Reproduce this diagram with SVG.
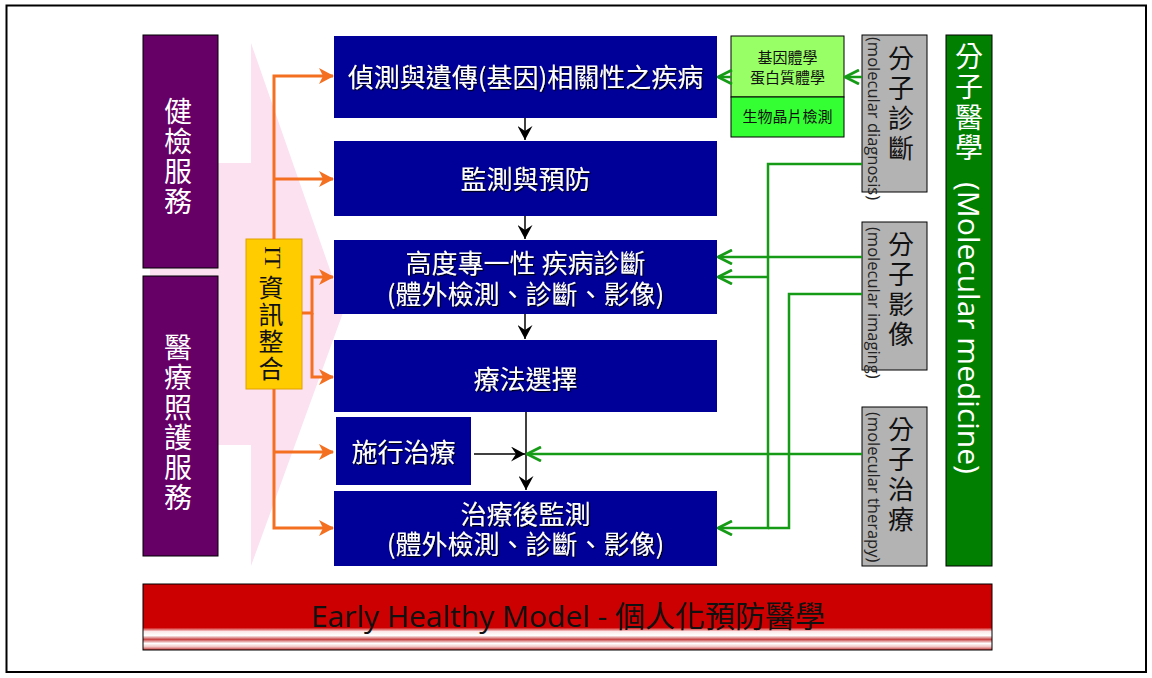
<svg xmlns="http://www.w3.org/2000/svg" width="1152" height="678" viewBox="0 0 1152 678">
<defs>
<style>
.cjk{font-family:"Noto Sans CJK TC","Noto Sans CJK SC",sans-serif}
.lat{font-family:"Open Sans","Noto Sans",sans-serif}
.blue{fill:#000099}
.btxt{fill:#fff;font-size:26px;text-anchor:middle;filter:url(#sh)}
.vwhite{fill:#fff;font-size:28px;text-anchor:middle}
.gray{fill:#b3b3b3;stroke:#000;stroke-width:1}
.gtxt{fill:#111;font-size:26px;text-anchor:middle}
.gsub{fill:#222;font-size:16.5px;dominant-baseline:central}
.orange{fill:none;stroke:#f47020;stroke-width:3}
.green{fill:none;stroke:#169b16;stroke-width:2.5}
.black{fill:none;stroke:#000;stroke-width:1.5}
</style>
<filter id="sh" x="-10%" y="-20%" width="120%" height="140%">
<feDropShadow dx="1.2" dy="1.2" stdDeviation="0.6" flood-color="#000" flood-opacity="0.9"/>
</filter>
<marker id="ao" markerUnits="userSpaceOnUse" viewBox="0 0 15 16" refX="14" refY="8" markerWidth="15" markerHeight="16" orient="auto">
<path d="M0,0 L15,8 L0,16 L4,8 z" fill="#f47020"/>
</marker>
<marker id="ag" markerUnits="userSpaceOnUse" viewBox="0 0 16 16" refX="15" refY="8" markerWidth="16" markerHeight="16" orient="auto">
<path d="M1,1 L15,8 L1,15" fill="none" stroke="#169b16" stroke-width="2.8"/>
</marker>
<marker id="ab" markerUnits="userSpaceOnUse" viewBox="0 0 14 15" refX="14" refY="7.5" markerWidth="14" markerHeight="15" orient="auto">
<path d="M0,0 L14,7.5 L0,15 L5,7.5 z" fill="#000"/>
</marker>
<linearGradient id="band" x1="0" y1="0" x2="0" y2="1">
<stop offset="0" stop-color="#cc0000"/>
<stop offset="0.66" stop-color="#cc0000"/>
<stop offset="0.72" stop-color="#fbe8e8"/>
<stop offset="0.78" stop-color="#fff"/>
<stop offset="0.84" stop-color="#c84444"/>
<stop offset="0.90" stop-color="#fff"/>
<stop offset="0.95" stop-color="#f2c6c6"/>
<stop offset="1" stop-color="#c03030"/>
</linearGradient>
</defs>

<rect x="6.5" y="5.5" width="1139.5" height="666.5" fill="#fff" stroke="#000" stroke-width="2"/>

<!-- pink big arrow -->
<polygon id="bgarrow" points="150,163 251,163 251,43 344,310 251,566 251,445 150,445" fill="#fce1f0"/>

<g id="n-health">
<rect x="143" y="35" width="75" height="233" fill="#660066" stroke="#000" stroke-width="1"/>
<text class="cjk vwhite"><tspan x="178" y="122">健</tspan><tspan x="178" y="152">檢</tspan><tspan x="178" y="182">服</tspan><tspan x="178" y="212">務</tspan></text>
</g>
<g id="n-care">
<rect x="143" y="276" width="75" height="280" fill="#660066" stroke="#000" stroke-width="1"/>
<text class="cjk vwhite"><tspan x="178" y="358">醫</tspan><tspan x="178" y="388">療</tspan><tspan x="178" y="418">照</tspan><tspan x="178" y="448">護</tspan><tspan x="178" y="478">服</tspan><tspan x="178" y="508">務</tspan></text>
</g>
<g id="n-it">
<rect x="246" y="239" width="56" height="150" fill="#ffcc00" stroke="#e0a000" stroke-width="1"/>
<text transform="rotate(90 273 246)" x="273" y="246" font-family="Liberation Serif,serif" font-size="24" fill="#111" dominant-baseline="central">IT</text>
<text class="cjk" font-size="25" fill="#111" text-anchor="middle"><tspan x="271" y="297">資</tspan><tspan x="271" y="324">訊</tspan><tspan x="271" y="351">整</tspan><tspan x="271" y="378">合</tspan></text>
</g>

<g id="n1"><rect class="blue" x="334" y="36" width="383" height="82"/><text class="cjk btxt" x="525.5" y="86.5">偵測與遺傳(基因)相關性之疾病</text></g>
<g id="n2"><rect class="blue" x="334" y="141" width="383" height="75"/><text class="cjk btxt" x="525.5" y="188.5">監測與預防</text></g>
<g id="n3"><rect class="blue" x="334" y="240" width="383" height="74"/><text class="cjk btxt" x="525.5" y="272.5">高度專一性 疾病診斷</text><text class="cjk btxt" x="525.5" y="304">(體外檢測、診斷、影像)</text></g>
<g id="n4"><rect class="blue" x="334" y="340" width="383" height="72"/><text class="cjk btxt" x="525.5" y="388.5">療法選擇</text></g>
<g id="n5"><rect class="blue" x="336" y="417" width="135" height="68"/><text class="cjk btxt" x="403.5" y="461.5">施行治療</text></g>
<g id="n6"><rect class="blue" x="334" y="491" width="383" height="75"/><text class="cjk btxt" x="525.5" y="523.5">治療後監測</text><text class="cjk btxt" x="525.5" y="554">(體外檢測、診斷、影像)</text></g>

<g id="n-omics">
<rect x="731" y="36" width="113" height="61" fill="#99ff66" stroke="#000" stroke-width="1"/>
<rect x="731" y="97" width="113" height="40" fill="#33ff33" stroke="#000" stroke-width="1"/>
<text class="cjk" font-size="15" fill="#111" text-anchor="middle"><tspan x="787.5" y="62.5">基因體學</tspan><tspan x="787.5" y="82.5">蛋白質體學</tspan><tspan x="787.5" y="122">生物晶片檢測</tspan></text>
</g>

<g id="n-diag">
<rect class="gray" x="862" y="35" width="65" height="157"/>
<text class="cjk gtxt"><tspan x="901" y="68">分</tspan><tspan x="901" y="98">子</tspan><tspan x="901" y="128">診</tspan><tspan x="901" y="158">斷</tspan></text>
<text class="lat gsub" transform="rotate(90 874 37)" x="874" y="37">(molecular diagnosis)</text>
</g>
<g id="n-img">
<rect class="gray" x="862" y="222" width="65" height="148"/>
<text class="cjk gtxt"><tspan x="901" y="254">分</tspan><tspan x="901" y="284">子</tspan><tspan x="901" y="314">影</tspan><tspan x="901" y="344">像</tspan></text>
<text class="lat gsub" transform="rotate(90 874 227)" x="874" y="227">(molecular imaging)</text>
</g>
<g id="n-ther">
<rect class="gray" x="862" y="407" width="65" height="159"/>
<text class="cjk gtxt"><tspan x="901" y="439">分</tspan><tspan x="901" y="469">子</tspan><tspan x="901" y="499">治</tspan><tspan x="901" y="529">療</tspan></text>
<text class="lat gsub" transform="rotate(90 874 412)" x="874" y="412">(molecular therapy)</text>
</g>

<g id="n-molmed">
<rect x="946" y="35" width="46" height="531" fill="#007f00" stroke="#000" stroke-width="1"/>
<text class="cjk" font-size="28" fill="#fff" text-anchor="middle"><tspan x="969" y="67">分</tspan><tspan x="969" y="97">子</tspan><tspan x="969" y="128">醫</tspan><tspan x="969" y="158">學</tspan></text>
<text class="lat" font-size="30" fill="#fff" transform="rotate(90 969 182)" x="969" y="182" dominant-baseline="central">(Molecular medicine)</text>
</g>

<g id="n-banner">
<rect x="143" y="584" width="849" height="66" fill="url(#band)" stroke="#000" stroke-width="1"/>
<text x="568" y="627" font-size="30" fill="#111" text-anchor="middle" font-family="Open Sans,Noto Sans CJK TC,sans-serif">Early Healthy Model - 個人化預防醫學</text>
</g>

<g id="connectors">
<path class="black" d="M525,118 V140" marker-end="url(#ab)"/>
<path class="black" d="M525,216 V239" marker-end="url(#ab)"/>
<path class="black" d="M525,314 V339" marker-end="url(#ab)"/>
<path class="black" d="M526,412 V490" marker-end="url(#ab)"/>
<path class="black" d="M474,454 H525" marker-end="url(#ab)"/>

<path class="orange" d="M274,239 V76 H333" marker-end="url(#ao)"/>
<path class="orange" d="M274,179 H333" marker-end="url(#ao)"/>
<path class="orange" d="M302,313 H312 V277 H333" marker-end="url(#ao)"/>
<path class="orange" d="M312,313 V377 H333" marker-end="url(#ao)"/>
<path class="orange" d="M274,389 V528 H333" marker-end="url(#ao)"/>
<path class="orange" d="M274,452 H333" marker-end="url(#ao)"/>

<path class="green" d="M862,77 H845" marker-end="url(#ag)"/>
<path class="green" d="M731,77 H718" marker-end="url(#ag)"/>
<path class="green" d="M862,164 H768 V528 H718" marker-end="url(#ag)"/>
<path class="green" d="M768,277 H718" marker-end="url(#ag)"/>
<path class="green" d="M862,257 H718" marker-end="url(#ag)"/>
<path class="green" d="M862,294 H789 V528 H768"/>
<path class="green" d="M862,454 H527" marker-end="url(#ag)"/>
</g>
</svg>
